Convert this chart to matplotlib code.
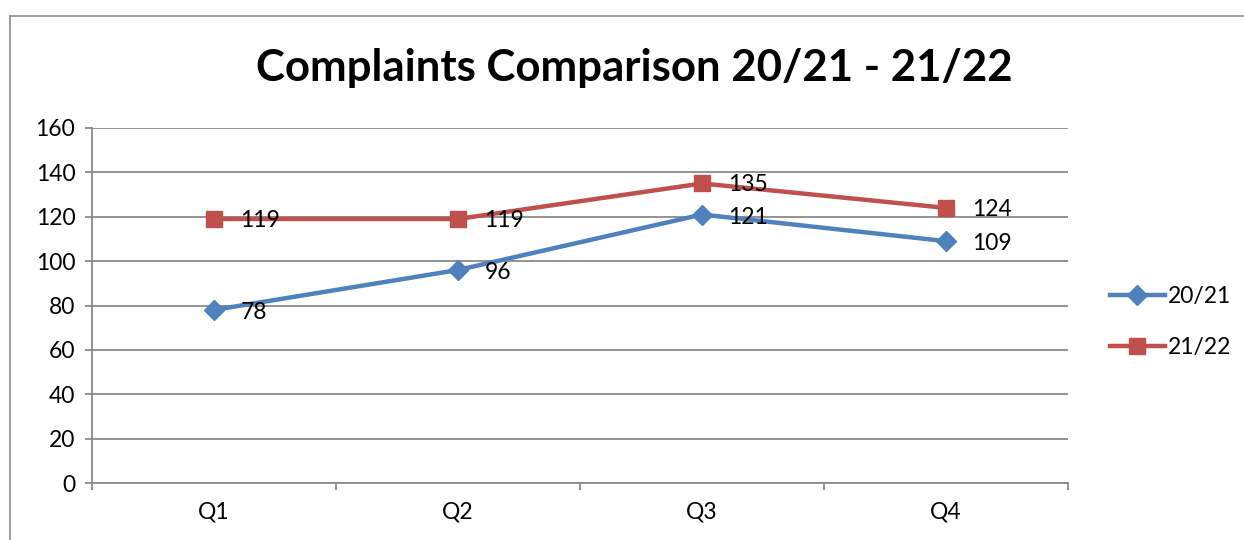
import numpy as np
import matplotlib.pyplot as plt
from matplotlib.lines import Line2D

plt.rcParams['font.family'] = ['Lato', 'DejaVu Sans']

quarters = ['Q1', 'Q2', 'Q3', 'Q4']
complaints_2021 = [78, 96, 121, 109]
complaints_2122 = [119, 119, 135, 124]
y_ticks = [0, 20, 40, 60, 80, 100, 120, 140, 160]

blue = '#4F81BD'
red = '#C0504D'
grid_grey = '#8A8A8A'

W, H = 1244, 540
fig = plt.figure(figsize=(W / 100, H / 100), dpi=100)

# chart frame (left and top edges only visible)
fig.add_artist(Line2D([10 / W, 10 / W], [0, 1 - 16 / H], color='#8C8C8C', lw=1.2))
fig.add_artist(Line2D([10 / W, 1], [1 - 16 / H, 1 - 16 / H], color='#8C8C8C', lw=1.2))

ax = fig.add_axes([92 / W, (H - 483) / H, 976 / W, 355 / H])
x = np.arange(len(quarters))

ax.plot(x, complaints_2021, color=blue, lw=3.2, marker='D', ms=10,
        label='20/21', zorder=3)
ax.plot(x, complaints_2122, color=red, lw=3.2, marker='s', ms=12,
        label='21/22', zorder=3)

for xi, v in zip(x, complaints_2021):
    ax.annotate(str(v), (xi, v), xytext=(19, -2), textcoords='offset points',
                ha='left', va='center', fontsize=16.5)
for xi, v in zip(x, complaints_2122):
    ax.annotate(str(v), (xi, v), xytext=(19, -1), textcoords='offset points',
                ha='left', va='center', fontsize=16.5)

ax.set_xlim(-0.5, 3.5)
ax.set_ylim(0, 160)
ax.set_yticks(y_ticks)
ax.set_xticks(x)
ax.set_xticklabels(quarters)
ax.set_xticks(np.arange(-0.5, 4.0, 1.0), minor=True)

ax.grid(axis='y', color=grid_grey, lw=1.3)
ax.set_axisbelow(True)
for side in ['top', 'right']:
    ax.spines[side].set_visible(False)
for side in ['left', 'bottom']:
    ax.spines[side].set_color(grid_grey)
    ax.spines[side].set_linewidth(1.3)

ax.tick_params(axis='y', length=5, color=grid_grey, width=1.3,
               labelsize=16.5, pad=7)
ax.tick_params(axis='x', which='major', length=0, labelsize=16.5, pad=13)
ax.tick_params(axis='x', which='minor', length=5, color=grid_grey, width=1.3)

fig.text(634 / W, 1 - 68 / H, 'Complaints Comparison 20/21 - 21/22',
         ha='center', va='center', fontsize=31.5, fontweight='bold')

fig.legend(loc='center left', bbox_to_anchor=(1089 / W, 1 - 322 / H),
           frameon=False, fontsize=16.5, handlelength=2.4, handletextpad=0.15,
           labelspacing=1.35)

fig.savefig('out.png', dpi=100)
